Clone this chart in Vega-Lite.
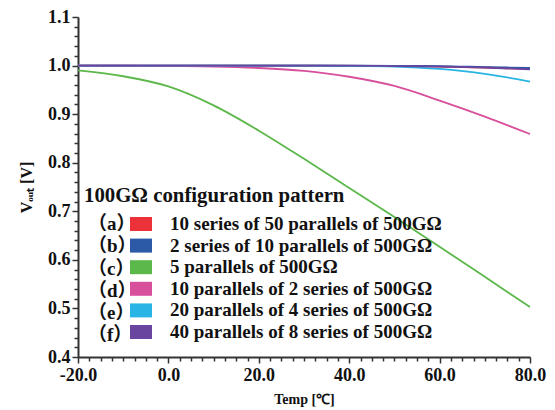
{
  "$schema": "https://vega.github.io/schema/vega-lite/v6.json",
  "width": 452,
  "height": 340,
  "autosize": {"type": "none"},
  "padding": {"left": 78, "top": 17, "right": 25, "bottom": 53},
  "background": "white",
  "config": {
    "view": {"stroke": null},
    "font": "Liberation Serif",
    "axis": {
      "labelFont": "Liberation Serif", "labelFontWeight": "bold", "labelFontSize": 18, "labelColor": "#111",
      "titleFont": "Liberation Serif", "titleFontWeight": "bold", "titleColor": "#111",
      "domainColor": "#333", "domainWidth": 2, "tickColor": "#333", "tickWidth": 1.5, "grid": false, "labelFlush": false
    },
    "legend": {
      "labelFont": "Liberation Serif, 'Noto Sans CJK SC'", "labelFontWeight": "bold", "labelFontSize": 19, "labelColor": "#111",
      "titleFont": "Liberation Serif", "titleFontWeight": "bold", "titleFontSize": 20.8, "titleColor": "#111",
      "padding": 0, "labelLimit": 500, "titleLimit": 500
    }
  },
  "resolve": {"axis": {"x": "independent", "y": "independent"}},
  "data": {"values": [
    {"t": -20, "v": 1.000, "k": "a"}, {"t": -10, "v": 1.000, "k": "a"}, {"t": 0, "v": 1.000, "k": "a"}, {"t": 10, "v": 1.000, "k": "a"}, {"t": 20, "v": 1.000, "k": "a"}, {"t": 30, "v": 1.000, "k": "a"}, {"t": 40, "v": 0.9995, "k": "a"}, {"t": 50, "v": 0.999, "k": "a"}, {"t": 60, "v": 0.998, "k": "a"}, {"t": 70, "v": 0.996, "k": "a"}, {"t": 80, "v": 0.993, "k": "a"},
    {"t": -20, "v": 1.000, "k": "b"}, {"t": -10, "v": 1.000, "k": "b"}, {"t": 0, "v": 1.000, "k": "b"}, {"t": 10, "v": 1.000, "k": "b"}, {"t": 20, "v": 1.000, "k": "b"}, {"t": 30, "v": 1.000, "k": "b"}, {"t": 40, "v": 1.000, "k": "b"}, {"t": 50, "v": 0.9995, "k": "b"}, {"t": 60, "v": 0.999, "k": "b"}, {"t": 70, "v": 0.997, "k": "b"}, {"t": 80, "v": 0.995, "k": "b"},
    {"t": -20, "v": 0.990, "k": "c"}, {"t": -10, "v": 0.978, "k": "c"}, {"t": 0, "v": 0.957, "k": "c"}, {"t": 10, "v": 0.918, "k": "c"}, {"t": 20, "v": 0.866, "k": "c"}, {"t": 30, "v": 0.808, "k": "c"}, {"t": 40, "v": 0.748, "k": "c"}, {"t": 50, "v": 0.688, "k": "c"}, {"t": 60, "v": 0.627, "k": "c"}, {"t": 70, "v": 0.565, "k": "c"}, {"t": 80, "v": 0.503, "k": "c"},
    {"t": -20, "v": 1.000, "k": "d"}, {"t": -10, "v": 1.000, "k": "d"}, {"t": 0, "v": 0.999, "k": "d"}, {"t": 10, "v": 0.998, "k": "d"}, {"t": 20, "v": 0.995, "k": "d"}, {"t": 30, "v": 0.989, "k": "d"}, {"t": 40, "v": 0.977, "k": "d"}, {"t": 50, "v": 0.958, "k": "d"}, {"t": 60, "v": 0.928, "k": "d"}, {"t": 70, "v": 0.895, "k": "d"}, {"t": 80, "v": 0.859, "k": "d"},
    {"t": -20, "v": 1.000, "k": "e"}, {"t": -10, "v": 1.000, "k": "e"}, {"t": 0, "v": 1.000, "k": "e"}, {"t": 10, "v": 1.000, "k": "e"}, {"t": 20, "v": 1.000, "k": "e"}, {"t": 30, "v": 1.000, "k": "e"}, {"t": 40, "v": 0.9995, "k": "e"}, {"t": 50, "v": 0.998, "k": "e"}, {"t": 60, "v": 0.993, "k": "e"}, {"t": 70, "v": 0.983, "k": "e"}, {"t": 80, "v": 0.967, "k": "e"},
    {"t": -20, "v": 1.000, "k": "f"}, {"t": -10, "v": 1.000, "k": "f"}, {"t": 0, "v": 1.000, "k": "f"}, {"t": 10, "v": 1.000, "k": "f"}, {"t": 20, "v": 1.000, "k": "f"}, {"t": 30, "v": 1.000, "k": "f"}, {"t": 40, "v": 1.000, "k": "f"}, {"t": 50, "v": 0.999, "k": "f"}, {"t": 60, "v": 0.998, "k": "f"}, {"t": 70, "v": 0.996, "k": "f"}, {"t": 80, "v": 0.992, "k": "f"}
  ]},
  "transform": [
    {"lookup": "k", "from": {"data": {"values": [
      {"k": "a", "tag": "（a）", "label": "10 series of  50 parallels of 500GΩ"},
      {"k": "b", "tag": "（b）", "label": "2 series of  10 parallels of 500GΩ"},
      {"k": "c", "tag": "（c）", "label": "5 parallels of 500GΩ"},
      {"k": "d", "tag": "（d）", "label": "10 parallels of 2 series of 500GΩ"},
      {"k": "e", "tag": "（e）", "label": "20 parallels of 4 series of 500GΩ"},
      {"k": "f", "tag": "（f）", "label": "40 parallels of 8 series of 500GΩ"}
    ]}, "key": "k", "fields": ["tag", "label"]}}
  ],
  "encoding": {
    "x": {"field": "t", "type": "quantitative", "scale": {"domain": [-20, 80], "nice": false}},
    "y": {"field": "v", "type": "quantitative", "scale": {"domain": [0.4, 1.1], "nice": false, "zero": false}}
  },
  "layer": [
    {
      "mark": {"type": "point", "opacity": 0, "filled": true},
      "encoding": {
        "x": {"field": "t", "type": "quantitative", "axis": {"orient": "bottom", "values": [-17.5,-15,-12.5,-10,-7.5,-5,-2.5,2.5,5,7.5,10,12.5,15,17.5,22.5,25,27.5,30,32.5,35,37.5,42.5,45,47.5,50,52.5,55,57.5,62.5,65,67.5,70,72.5,75,77.5], "labels": false, "tickSize": 4, "domain": false, "title": null}},
        "y": {"field": "v", "type": "quantitative", "axis": {"orient": "left", "values": [0.42,0.44,0.46,0.48,0.52,0.54,0.56,0.58,0.62,0.64,0.66,0.68,0.72,0.74,0.76,0.78,0.82,0.84,0.86,0.88,0.92,0.94,0.96,0.98,1.02,1.04,1.06,1.08], "labels": false, "tickSize": 4, "domain": false, "title": null}},
        "fill": {"field": "tag", "type": "nominal", "scale": {"domain": ["（a）","（b）","（c）","（d）","（e）","（f）"], "range": ["#fff","#fff","#fff","#fff","#fff","#fff"]},
          "legend": {"title": "100GΩ configuration pattern", "orient": "none", "legendX": 6, "legendY": 169, "symbolSize": 0, "symbolOpacity": 0, "labelOffset": -15, "rowPadding": 2.1, "titlePadding": 8}}
      }
    },
    {
      "mark": {"type": "line", "strokeWidth": 1.8, "interpolate": "monotone"},
      "encoding": {
        "x": {"field": "t", "type": "quantitative", "axis": {"orient": "bottom", "values": [-20,0,20,40,60,80], "labelExpr": "replace(format(datum.value, '.1f'), '−', '-')", "tickSize": 6, "labelPadding": 3, "title": "Temp [℃]", "titleFontSize": 14, "titlePadding": 8}},
        "y": {"field": "v", "type": "quantitative", "axis": {"orient": "left", "values": [0.4,0.5,0.6,0.7,0.8,0.9,1.0,1.1], "format": ".1f", "tickSize": 6, "labelPadding": 2, "title": "Vₒᵤₜ [V]", "titleFontSize": 16, "titlePadding": 13}},
        "color": {"field": "label", "type": "nominal",
          "scale": {"domain": ["10 series of  50 parallels of 500GΩ","2 series of  10 parallels of 500GΩ","5 parallels of 500GΩ","10 parallels of 2 series of 500GΩ","20 parallels of 4 series of 500GΩ","40 parallels of 8 series of 500GΩ"],
            "range": ["#ec3238","#2c5aa6","#5cb84a","#d8509c","#28b4e4","#6a45a0"]},
          "legend": {"title": null, "orient": "none", "legendX": 53, "legendY": 197, "symbolType": "M-1.1,-0.7H1.1V0.7H-1.1Z", "symbolSize": 400, "symbolStrokeWidth": 0, "labelOffset": 19, "rowPadding": 1.6,
            "encode": {"symbols": {"update": {"fill": {"scale": "color", "field": "value"}, "fillOpacity": {"value": 1}}}}}}
      }
    }
  ]
}
